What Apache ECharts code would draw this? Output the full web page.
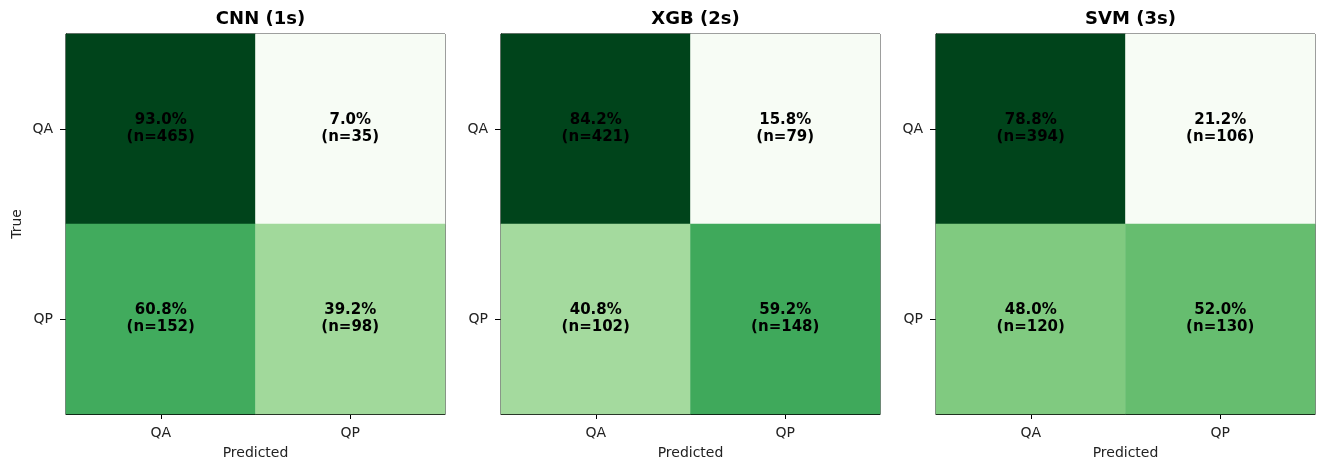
<!DOCTYPE html>
<html><head><meta charset="utf-8">
<script src="https://cdn.jsdelivr.net/npm/echarts@6/dist/echarts.min.js"></script>
<style>html,body{margin:0;padding:0;background:#fff}#c{width:1326px;height:468px}</style>
</head><body><div id="c"></div>
<script>
const titles = ['CNN (1s)', 'XGB (2s)', 'SVM (3s)'];
const classes = ['QA', 'QP'];
// rows: true class, cols: predicted class
const cnnPct = [[93.0, 7.0], [60.8, 39.2]];
const cnnN = [[465, 35], [152, 98]];
const xgbPct = [[84.2, 15.8], [40.8, 59.2]];
const xgbN = [[421, 79], [102, 148]];
const svmPct = [[78.8, 21.2], [48.0, 52.0]];
const svmN = [[394, 106], [120, 130]];
const pcts = [cnnPct, xgbPct, svmPct];
const counts = [cnnN, xgbN, svmN];
const greens = ['#f7fcf5','#e5f5e0','#c7e9c0','#a1d99b','#74c476','#41ab5d','#238b45','#006d2c','#00441b'];

const font = 'DejaVu Sans';
const lefts = [66, 501, 936];
const grids = [], xAxes = [], yAxes = [], series = [], vms = [], titleArr = [];
for (let i = 0; i < 3; i++) {
  grids.push({left: lefts[i], top: 34, width: 379, height: 380, show: true, borderColor: '#000', borderWidth: 1, containLabel: false});
  titleArr.push({text: titles[i], left: lefts[i] + 189.5, top: 5, textAlign: 'center',
    textStyle: {fontFamily: font, fontSize: 18, fontWeight: 'bold', color: '#000'}});
  xAxes.push({type: 'category', gridIndex: i, data: classes, name: 'Predicted', nameLocation: 'middle', nameGap: 32,
    nameTextStyle: {fontFamily: font, fontSize: 14, color: '#222'},
    axisLine: {show: true, lineStyle: {color: '#000'}},
    axisTick: {show: true, alignWithLabel: true, length: 5, lineStyle: {color: '#000'}},
    axisLabel: {fontFamily: font, fontSize: 14, color: '#222', margin: 12},
    splitArea: {show: false}, splitLine: {show: false}});
  yAxes.push({type: 'category', gridIndex: i, data: classes, inverse: true,
    name: i === 0 ? 'True' : '', nameLocation: 'middle', nameGap: 42,
    nameTextStyle: {fontFamily: font, fontSize: 14, color: '#222'},
    axisLine: {show: true, lineStyle: {color: '#000'}},
    axisTick: {show: true, alignWithLabel: true, length: 6, lineStyle: {color: '#000'}},
    axisLabel: {fontFamily: font, fontSize: 14, color: '#222', margin: 13},
    splitArea: {show: false}, splitLine: {show: false}});
  const data = [];
  const vals = pcts[i].flat();
  for (let r = 0; r < 2; r++) for (let c = 0; c < 2; c++) data.push([c, r, pcts[i][r][c], counts[i][r][c]]);
  series.push({type: 'heatmap', xAxisIndex: i, yAxisIndex: i, data: data,
    label: {show: true, fontFamily: font, fontSize: 15, fontWeight: 'bold', color: '#000', lineHeight: 17,
      formatter: p => p.value[2].toFixed(1) + '%\n(n=' + p.value[3] + ')'},
    itemStyle: {borderWidth: 0},
    emphasis: {disabled: true}});
  vms.push({type: 'continuous', show: false, seriesIndex: i, dimension: 2,
    min: Math.min(...vals), max: Math.max(...vals), inRange: {color: greens}});
}
const chart = echarts.init(document.getElementById('c'), null, {renderer: 'canvas'});
chart.setOption({animation: false, backgroundColor: '#fff', title: titleArr, grid: grids, xAxis: xAxes, yAxis: yAxes, visualMap: vms, series: series});
</script></body></html>
